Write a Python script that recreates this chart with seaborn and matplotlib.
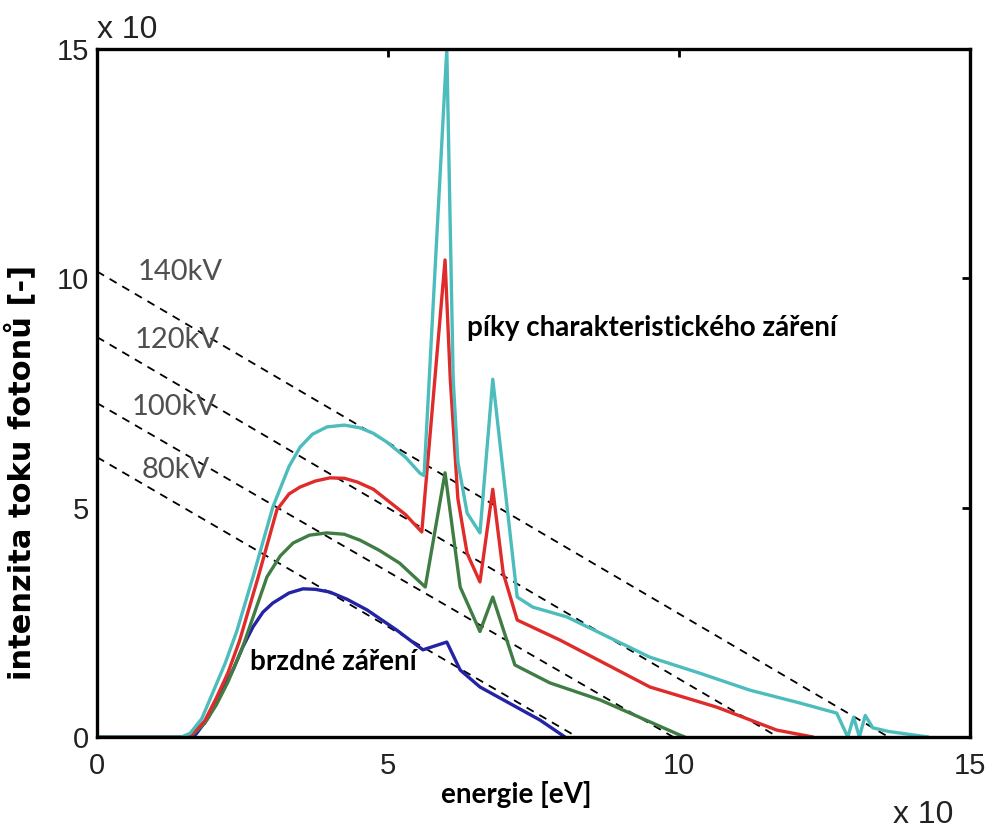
import numpy as np
import pandas as pd
import matplotlib
matplotlib.use("Agg")
import matplotlib.pyplot as plt
import seaborn as sns

# spectra (energy in units of 10 eV, intensity in units of 10)
energy_140 = [0, 1.45, 1.6, 1.8, 2.0, 2.2, 2.4, 2.68, 3.02, 3.3, 3.49, 3.7, 3.95,
              4.25, 4.52, 4.75, 4.98, 5.3, 5.55, 5.62,
              6.01, 6.12, 6.2, 6.36, 6.58, 6.8, 7.22, 7.49, 8.07, 9.5, 10.36, 11.22,
              12.08, 12.71, 12.9, 13.0, 13.1, 13.2, 13.33, 13.6, 14.28]
flux_140 = [0, 0, 0.08, 0.4, 1.0, 1.6, 2.3, 3.49, 5.01, 5.9, 6.32, 6.6, 6.76,
            6.8, 6.74, 6.62, 6.43, 6.1, 5.75, 5.7,
            15.0, 7.8, 6.0, 4.88, 4.45, 7.8, 3.05, 2.83, 2.62, 1.74, 1.39, 1.02,
            0.74, 0.52, 0.0, 0.43, 0.0, 0.47, 0.2, 0.12, 0.0]

energy_120 = [0, 1.48, 1.65, 1.85, 2.05, 2.25, 2.45, 2.77, 3.09, 3.3, 3.49, 3.75,
              4.0, 4.25, 4.47, 4.75, 4.98, 5.3, 5.58,
              5.98, 6.07, 6.2, 6.36, 6.58, 6.8, 6.98, 7.22, 7.96, 9.5, 10.65, 11.68, 12.3]
flux_120 = [0, 0, 0.08, 0.35, 0.85, 1.4, 2.1, 3.49, 4.95, 5.3, 5.45, 5.58,
            5.65, 5.64, 5.56, 5.4, 5.17, 4.85, 4.47,
            10.4, 7.8, 5.2, 4.0, 3.38, 5.4, 3.57, 2.55, 2.11, 1.09, 0.65, 0.15, 0]

energy_100 = [0, 1.5, 1.65, 1.85, 2.05, 2.25, 2.5, 2.92, 3.15, 3.37, 3.65, 3.95,
              4.25, 4.52, 4.85, 5.2, 5.64, 5.98,
              6.24, 6.58, 6.8, 7.18, 7.78, 8.64, 10.0, 10.1]
flux_100 = [0, 0, 0.06, 0.3, 0.7, 1.2, 1.95, 3.49, 3.95, 4.23, 4.4, 4.45,
            4.42, 4.29, 4.07, 3.79, 3.27, 5.76,
            3.27, 2.3, 3.05, 1.57, 1.18, 0.81, 0.05, 0]

energy_80 = [0, 1.55, 1.7, 1.9, 2.16, 2.35, 2.5, 2.68, 2.85, 3.02, 3.3, 3.54,
             3.75, 4.0, 4.3, 4.64, 5.15, 5.6,
             6.01, 6.24, 6.58, 7.61, 8.04]
flux_80 = [0, 0, 0.06, 0.4, 1.02, 1.5, 1.95, 2.4, 2.72, 2.92, 3.14, 3.23,
           3.22, 3.16, 3.0, 2.77, 2.33, 1.9,
           2.07, 1.46, 1.09, 0.37, 0]

# Kramers lines: intercept on the y axis and on the x axis
kv_labels = ["140kV", "120kV", "100kV", "80kV"]
kv_y0 = [10.15, 8.72, 7.28, 6.1]
kv_x0 = [13.6, 11.7, 9.9, 8.25]
kv_label_x = [0.69, 0.65, 0.6, 0.77]
kv_label_y = [9.96, 8.48, 7.02, 5.65]

ticks = [0, 5, 10, 15]

sns.set_style("white")
plt.rcParams['font.family'] = ['Liberation Sans', 'DejaVu Sans']

fig = plt.figure(figsize=(9.91, 8.32), dpi=100)
ax = fig.add_axes([0.0979, 0.1142, 0.8809, 0.8269])

# dashed lines first so the spectra sit on top
for y0, x0 in zip(kv_y0, kv_x0):
    ax.plot([0, x0], [y0, 0], color="black", lw=1.3, linestyle=(0, (4.5, 3.6)))

for lab, lx, ly in zip(kv_labels, kv_label_x, kv_label_y):
    ax.text(lx, ly, lab, fontsize=21, color="#505050", family="Lato",
            va="baseline", ha="left")

series = [(energy_80, flux_80, "#2323a3"),
          (energy_100, flux_100, "#3f7d45"),
          (energy_120, flux_120, "#e02b2b"),
          (energy_140, flux_140, "#4dbcbc")]
for ex, fx, col in series:
    sns.lineplot(x=ex, y=fx, ax=ax, color=col, linewidth=2.4, sort=False)

ax.set_xlim(0, 15)
ax.set_ylim(0, 15)
ax.set_xticks(ticks)
ax.set_yticks(ticks)
ax.tick_params(direction="in", length=6, width=2, top=True, right=True,
               labelsize=21, colors="black", labelcolor="#222222")
ax.tick_params(axis="x", pad=11)
ax.tick_params(axis="y", pad=6)
for sp in ax.spines.values():
    sp.set_linewidth(2.4)
    sp.set_color("black")

ax.text(0.0, 1.016, "x 10", transform=ax.transAxes, fontsize=23,
        color="#222222", va="baseline", ha="left")
ax.text(0.912, -0.135, "x 10", transform=ax.transAxes, fontsize=23,
        color="#222222", va="bottom", ha="left")

bold = dict(fontsize=20, fontweight="bold", family="Lato", color="black")
ax.text(0.48, -0.084, "energie [eV]", transform=ax.transAxes,
        ha="center", va="center", **bold)
ax.text(-0.088, 0.384, "intenzita toku fotonů [-]", transform=ax.transAxes,
        ha="center", va="center", rotation=90, fontsize=22, fontweight="bold",
        family="DejaVu Sans", color="black")
ax.text(6.36, 8.92, "píky charakteristického záření", ha="left", va="center", **bold)
ax.text(2.63, 1.64, "brzdné záření", ha="left", va="center", **bold)

ax.set_xlabel("")
ax.set_ylabel("")
fig.savefig("out.png", dpi=100)
